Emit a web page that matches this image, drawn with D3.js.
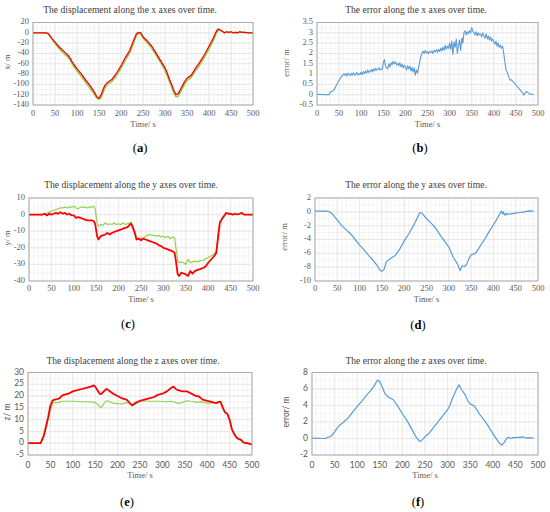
<!DOCTYPE html>
<html>
<head>
<meta charset="utf-8">
<script src="https://cdn.jsdelivr.net/npm/d3@7"></script>
<style>
  body { margin: 0; background: #fff; }
  text { fill: #595959; }
</style>
</head>
<body>
<svg id="fig" width="550" height="512"></svg>
<script>
/* Six Excel-style line panels: displacement (true vs estimate) and error per axis */

// shared time axis ticks
var timeTicks = [0, 50, 100, 150, 200, 250, 300, 350, 400, 450, 500];

// (a) x displacement rows: [time, estimate (red), truth (green)]
var xDisp = [
  [0,0,0],[30,0,0],[35,-2,-1],[40,-8,-8],[50,-18,-21],[60,-28,-31],[70,-36,-40],[80,-44,-48],
  [85,-50,-54],[90,-58,-62],[100,-70,-74],[110,-80,-85],[120,-92,-97],[130,-103,-108],[140,-116,-120],
  [145,-124,-127],[150,-127,-129],[155,-120,-126],[160,-108,-114],[165,-100,-105],[170,-96,-100],
  [180,-90,-94],[190,-78,-83],[200,-64,-69],[210,-48,-53],[220,-34,-39],[230,-12,-17],[235,-2,-6],
  [240,1,-1],[245,0,-2],[250,-8,-10],[260,-16,-20],[270,-26,-30],[280,-40,-44],[290,-54,-58],
  [300,-68,-73],[305,-78,-83],[310,-90,-95],[315,-100,-105],[320,-112,-117],[325,-120,-124],
  [330,-118,-123],[335,-110,-116],[340,-102,-107],[345,-94,-99],[350,-88,-93],[360,-82,-86],
  [370,-68,-73],[380,-56,-61],[390,-42,-47],[400,-26,-31],[410,-10,-15],[415,0,-4],[420,7,4],
  [425,6,5],[430,3,3],[435,0,0],[440,2,2],[445,1,1],[450,2,2],[455,0,0],[460,1,1],[465,0,0],
  [470,2,2],[475,1,1],[480,1,1],[490,0,0],[500,0,0]
];
var xDispTicks = [20, 0, -20, -40, -60, -80, -100, -120, -140];

// (b) x error, one sample every 2.5 s from t = 0
var xErrStep = 2.5;
var xErr = [
  0.02,0.01,0.02,0.01,0.02,0.01,0.0,0.01,0.0,0.01,0.0,0.0,
  0.12,0.15,0.18,0.2,0.28,0.4,0.5,0.62,0.7,0.78,0.88,0.92,
  1.0,0.95,1.02,0.9,1.05,0.97,0.92,1.03,0.96,1.06,0.93,1.0,1.08,0.95,1.02,0.98,
  1.1,0.97,1.12,1.03,1.15,1.05,1.2,1.08,1.13,1.22,1.1,1.25,1.15,1.28,1.18,1.23,1.3,1.2,1.25,1.22,
  1.55,1.7,1.4,1.3,1.25,1.5,1.35,1.55,1.45,1.62,1.5,1.58,1.45,1.52,1.4,1.55,1.35,1.48,1.3,1.42,
  1.35,1.2,1.4,1.25,1.38,1.15,1.32,1.1,1.3,0.95,1.2,1.05,1.35,1.6,1.85,2.0,
  2.1,2.0,2.15,2.02,2.08,1.98,2.1,2.05,2.12,2.0,2.15,2.08,2.18,2.05,2.2,2.1,2.25,2.12,2.3,2.15,2.4,2.2,2.35,2.25,
  2.5,2.2,2.6,1.95,2.55,2.3,2.7,2.0,2.4,2.65,2.15,2.75,2.5,3.0,3.1,2.9,3.05,2.95,3.1,3.0,
  3.25,3.1,3.0,2.9,3.05,2.85,3.0,2.9,2.95,2.8,3.0,2.85,2.75,2.95,2.7,2.85,2.65,2.8,2.6,2.7,
  2.55,2.45,2.6,2.35,2.5,2.3,2.4,2.25,2.35,2.0,1.6,1.2,1.1,0.95,0.8,0.7,
  0.72,0.65,0.6,0.55,0.48,0.4,0.35,0.28,0.22,0.15,0.1,-0.02,0.05,0.12,0.15,0.1,0.05,0.02,0.03,0.01,0.0
];
var xErrTicks = [3.5, 3, 2.5, 2, 1.5, 1, 0.5, 0, -0.5];

// (c) y displacement rows: [time, estimate (red), truth (green)]
var yDisp = [
  [0,0,0],[30,0,0],[35,0.5,0.5],[40,-0.5,1],[45,0.5,1.5],[50,0,2],[55,0.5,2.5],[60,1,3],[65,0.5,3.5],
  [70,1.5,4],[75,0.5,4],[80,1,4.5],[85,0,4],[90,0.5,4.5],[95,-0.5,4.5],[100,-0.5,5],[105,-2,4],
  [110,-1.5,3.5],[115,-2,4.5],[120,-2.5,4.5],[125,-3,4.5],[130,-3.5,4],[135,-3.5,4.5],[140,-3.5,4.5],
  [145,-4,5],[148,-6,3],[152,-13,-5],[155,-15,-7],[160,-13,-6],[165,-12.5,-6.5],[170,-12,-5],
  [175,-11,-6],[180,-12,-5.5],[185,-11,-6],[190,-10.5,-5],[195,-10,-6],[200,-9.5,-5.5],[205,-9,-6],
  [210,-8.5,-5],[215,-8,-6],[220,-7.5,-5.5],[225,-6,-5],[228,-5.5,-4.5],[232,-8,-7],[236,-11,-10],
  [240,-15,-14],[245,-14.5,-15],[250,-15.5,-14],[255,-14.5,-14.5],[260,-15,-13],[265,-15.5,-12.5],
  [270,-16,-12],[275,-16.5,-12.5],[280,-17,-12.5],[285,-17.5,-13],[290,-18.5,-12.5],[295,-19,-13.5],
  [300,-20,-13],[305,-20.5,-14],[310,-21,-13],[315,-21.5,-14.5],[320,-22,-13.5],[325,-23,-14],
  [328,-28,-20],[332,-36,-28],[335,-37,-29],[340,-35,-28.5],[345,-35.5,-29],[350,-36,-30],
  [355,-37,-27],[360,-34,-29],[365,-35.5,-28.5],[370,-34,-28],[375,-33.5,-28.5],[380,-33,-28],
  [385,-32.5,-27.5],[390,-32,-27.5],[395,-31,-26.5],[400,-29,-26],[405,-27.5,-25],[410,-26,-24.5],
  [415,-24.5,-23],[418,-23,-22],[422,-14,-12],[426,-5,-4],[430,-3,-2.5],[435,-1,-1],[440,1,1],
  [445,0.5,0.5],[450,0.5,0.5],[455,0,0.2],[460,0.5,0],[465,0.2,0.2],[470,0.5,0.5],[475,1,1],
  [480,0,0],[485,0,0],[490,0,0],[495,0,0],[500,0,0]
];
var yDispTicks = [10, 0, -10, -20, -30, -40];

// (d) y error rows: [time, error]
var yErr = [
  [0,0.1],[25,0.1],[30,0.05],[35,-0.1],[40,-0.4],[50,-1.2],[60,-2.0],[70,-2.6],[80,-3.2],[90,-4.0],
  [100,-4.8],[110,-5.5],[120,-6.3],[130,-7.0],[140,-7.8],[145,-8.4],[150,-8.6],[155,-8.3],[160,-7.2],
  [170,-6.7],[180,-6.3],[190,-5.4],[200,-4.2],[210,-3.2],[220,-2.1],[230,-0.8],[235,-0.1],[240,-0.2],
  [250,-1.0],[260,-1.6],[270,-2.3],[280,-3.3],[290,-4.2],[300,-5.1],[305,-5.8],[310,-6.6],[315,-7.1],
  [320,-7.6],[325,-8.5],[330,-7.8],[335,-7.9],[340,-7.6],[345,-6.8],[350,-6.2],[360,-6.0],[370,-5.0],
  [380,-4.0],[390,-2.9],[400,-1.9],[410,-0.8],[415,-0.2],[418,0.1],[420,-0.3],[422,0.0],[425,-0.5],
  [428,-0.2],[430,-0.4],[435,-0.3],[440,-0.3],[450,-0.2],[460,-0.1],[470,0.0],[480,0.15],[490,0.1]
];
var yErrTicks = [2, 0, -2, -4, -6, -8, -10];

// (e) z displacement rows: [time, estimate (red), truth (green)]
var zDisp = [
  [0,0,0],[28,0,0],[35,3,2.5],[40,7,6],[45,11,10],[50,16,14],[55,18.2,17],[60,18.5,17.2],[65,18.7,17.2],
  [70,19,17.3],[75,20,17.8],[80,20.5,17.8],[90,21,17.8],[100,22,17.8],[110,22.5,17.7],[120,23,17.6],
  [130,23.5,17.6],[140,24,17.5],[147,24.5,17.4],[150,24,17.2],[155,22.5,16.6],[160,21,15.5],
  [163,20.8,15],[168,21.8,16.5],[175,23,18],[180,22.5,17.8],[190,21,17],[200,20,16.8],[210,19,16.7],
  [220,18.5,17.2],[225,17.5,17],[232,16,16.2],[240,17,17.5],[250,18,18],[260,18.5,17.9],[270,19,17.8],
  [280,19.5,17.8],[290,20.5,17.8],[300,21,17.7],[310,22,17.6],[320,23.5,17.8],[325,24,17.6],
  [330,23,17.3],[335,22.5,16.9],[345,22,17.3],[355,22,18],[360,21.5,17.9],[370,20.5,17.6],
  [375,20,17.3],[380,20,17.4],[390,18.5,17.5],[400,18,17],[410,17.5,17],[420,17,17.3],[425,17.5,17.6],
  [430,17.5,17.8],[435,15,15],[440,13,13],[445,12.5,12.5],[450,10,10],[455,6,6],[460,4,4],
  [465,2.5,2.5],[470,1.8,1.6],[475,1.5,1.3],[480,0.5,0.4],[485,0,0],[490,0,0],[495,-0.3,-0.4],
  [500,-0.5,-0.7]
];
var zDispTicks = [30, 25, 20, 15, 10, 5, 0, -5];

// (f) z error rows: [time, error]
var zErr = [
  [0,0.05],[30,0.0],[35,0.15],[40,0.2],[45,0.45],[50,0.8],[55,1.2],[60,1.55],[70,2.0],[80,2.5],
  [90,3.2],[100,3.9],[110,4.5],[120,5.2],[130,5.8],[140,6.6],[145,7.1],[150,6.9],[155,6.3],[160,5.6],
  [165,5.2],[170,5.0],[180,4.7],[190,3.9],[200,3.0],[210,2.2],[220,1.2],[230,0.2],[237,-0.3],
  [240,-0.35],[245,-0.1],[250,0.2],[260,0.7],[270,1.4],[280,2.1],[290,2.8],[300,3.5],[305,4.0],
  [310,4.8],[315,5.4],[320,6.0],[325,6.5],[330,6.0],[340,5.2],[345,4.5],[350,4.2],[360,3.9],
  [370,3.0],[380,2.3],[390,1.5],[400,0.6],[410,-0.2],[415,-0.6],[420,-0.8],[425,-0.5],[430,0.0],
  [435,0.15],[440,0.0],[445,0.1],[450,0.1],[455,0.15],[460,0.1],[465,0.2],[470,0.15],[475,0.05],
  [480,0.1],[490,0.05]
];
var zErrTicks = [8, 6, 4, 2, 0, -2];

var RED = "#ff0000", GREEN = "#92d050", BLUE = "#5b9bd5";
var SERIF = "Liberation Serif";
var SANS = "Lato";

var svg = d3.select("#fig");

function col(rows, k) { return rows.map(function(r) { return [r[0], r[k]]; }); }

function txt(sel, family, size) {
  return sel.attr("font-family", family).attr("font-size", size);
}

// draws one panel: box = [left, top, right, bottom]
function panel(p) {
  var g = svg.append("g");
  var x = d3.scaleLinear().domain([0, 500]).range([p.box[0], p.box[2]]);
  var y = d3.scaleLinear().domain([p.yTicks[p.yTicks.length - 1], p.yTicks[0]]).range([p.box[3], p.box[1]]);
  var major = p.yTicks[0] - p.yTicks[1];

  // minor grid
  var xMinor = d3.range(0, 501, 10);
  var yMinor = d3.range(y.domain()[0], y.domain()[1] + 1e-9, major / 2);
  g.selectAll(".vminor").data(xMinor).enter().append("line")
    .attr("x1", x).attr("x2", x).attr("y1", p.box[1]).attr("y2", p.box[3])
    .attr("stroke", "#efefef").attr("stroke-width", 0.6);
  g.selectAll(".hminor").data(yMinor).enter().append("line")
    .attr("y1", y).attr("y2", y).attr("x1", p.box[0]).attr("x2", p.box[2])
    .attr("stroke", "#efefef").attr("stroke-width", 0.6);
  // major grid
  g.selectAll(".vmajor").data(timeTicks).enter().append("line")
    .attr("x1", x).attr("x2", x).attr("y1", p.box[1]).attr("y2", p.box[3])
    .attr("stroke", "#dedede").attr("stroke-width", 0.6);
  g.selectAll(".hmajor").data(p.yTicks).enter().append("line")
    .attr("y1", y).attr("y2", y).attr("x1", p.box[0]).attr("x2", p.box[2])
    .attr("stroke", "#dedede").attr("stroke-width", 0.6);

  // series
  var line = d3.line().x(function(d) { return x(d[0]); }).y(function(d) { return y(d[1]); });
  p.series.forEach(function(s) {
    g.append("path").datum(s.data).attr("d", line)
      .attr("fill", "none").attr("stroke", s.color).attr("stroke-width", s.w)
      .attr("stroke-linejoin", "round");
  });

  // plot border
  g.append("rect").attr("x", p.box[0]).attr("y", p.box[1])
    .attr("width", p.box[2] - p.box[0]).attr("height", p.box[3] - p.box[1])
    .attr("fill", "none").attr("stroke", "#a6a6a6").attr("stroke-width", 0.9);

  // tick labels
  txt(g.selectAll(".xt").data(timeTicks).enter().append("text"), p.tickFont, 8.5)
    .attr("x", x).attr("y", p.box[3] + p.xLabGap).attr("text-anchor", "middle")
    .attr("dominant-baseline", "middle").text(function(d) { return d; });
  txt(g.selectAll(".yt").data(p.yTicks).enter().append("text"), p.tickFont, 8.5)
    .attr("x", p.box[0] - 4).attr("y", y).attr("text-anchor", "end")
    .attr("dominant-baseline", "middle").text(function(d) { return d; });

  // titles
  txt(g.append("text"), SERIF, 9.6).attr("x", p.title[1]).attr("y", p.title[2]).attr("text-anchor", "middle")
    .attr("dominant-baseline", "middle").style("fill", "#404040").text(p.title[0]);
  txt(g.append("text"), SERIF, 8.5).attr("x", (p.box[0] + p.box[2]) / 2).attr("y", p.box[3] + p.timeGap)
    .attr("text-anchor", "middle").attr("dominant-baseline", "middle").text("Time/ s");
  txt(g.append("text"), p.ylabFont, 8.5)
    .attr("transform", "translate(" + p.ylab[1] + "," + p.ylab[2] + ") rotate(-90)")
    .attr("text-anchor", "middle").attr("dominant-baseline", "middle").text(p.ylab[0]);

  // caption like (a)
  var cap = txt(svg.append("text"), SERIF, 12.5).attr("x", p.cap[1]).attr("y", p.cap[2])
    .attr("text-anchor", "middle").attr("dominant-baseline", "middle").style("fill", "#000");
  cap.append("tspan").text("(");
  cap.append("tspan").attr("font-weight", "bold").text(p.cap[0]);
  cap.append("tspan").text(")");
}

var xErrRows = xErr.map(function(v, i) { return [i * xErrStep, v]; });

panel({ box: [33, 22.5, 253, 105], yTicks: xDispTicks, tickFont: SERIF, ylabFont: SERIF,
  xLabGap: 9, timeGap: 20, title: ["The displacement along the x axes over time.", 130, 11],
  ylab: ["x/ m", 8, 62], cap: ["a", 140, 149],
  series: [{ data: col(xDisp, 2), color: GREEN, w: 1.5 }, { data: col(xDisp, 1), color: RED, w: 1.3 }] });

panel({ box: [317, 22.5, 538, 105], yTicks: xErrTicks, tickFont: SERIF, ylabFont: SERIF,
  xLabGap: 9, timeGap: 20, title: ["The error along the x axes over time.", 416, 11],
  ylab: ["error/ m", 287, 63], cap: ["b", 420, 149],
  series: [{ data: xErrRows, color: BLUE, w: 1.1 }] });

panel({ box: [29, 198, 253, 281], yTicks: yDispTicks, tickFont: SERIF, ylabFont: SERIF,
  xLabGap: 8.5, timeGap: 19, title: ["The displacement along the y axes over time.", 131, 186],
  ylab: ["y/ m", 8, 238], cap: ["c", 128, 325],
  series: [{ data: col(yDisp, 2), color: GREEN, w: 1.2 }, { data: col(yDisp, 1), color: RED, w: 1.8 }] });

panel({ box: [315, 198, 538, 281], yTicks: yErrTicks, tickFont: SERIF, ylabFont: SERIF,
  xLabGap: 8.5, timeGap: 19, title: ["The error along the y axes over time.", 416, 186],
  ylab: ["error/ m", 285, 237], cap: ["d", 418, 326],
  series: [{ data: yErr, color: BLUE, w: 1.2 }] });

panel({ box: [28, 372.5, 252, 455], yTicks: zDispTicks, tickFont: SANS, ylabFont: SANS,
  xLabGap: 10.5, timeGap: 21, title: ["The displacement along the z axes over time.", 133, 362],
  ylab: ["z/ m", 8, 412], cap: ["e", 127, 503],
  series: [{ data: col(zDisp, 2), color: GREEN, w: 1.2 }, { data: col(zDisp, 1), color: RED, w: 1.8 }] });

panel({ box: [312, 372.5, 538, 455], yTicks: zErrTicks, tickFont: SANS, ylabFont: SANS,
  xLabGap: 10.5, timeGap: 21, title: ["The error along the z axes over time.", 416, 362],
  ylab: ["error/ m", 287, 412], cap: ["f", 418, 503],
  series: [{ data: zErr, color: BLUE, w: 1.2 }] });
</script>
</body>
</html>
